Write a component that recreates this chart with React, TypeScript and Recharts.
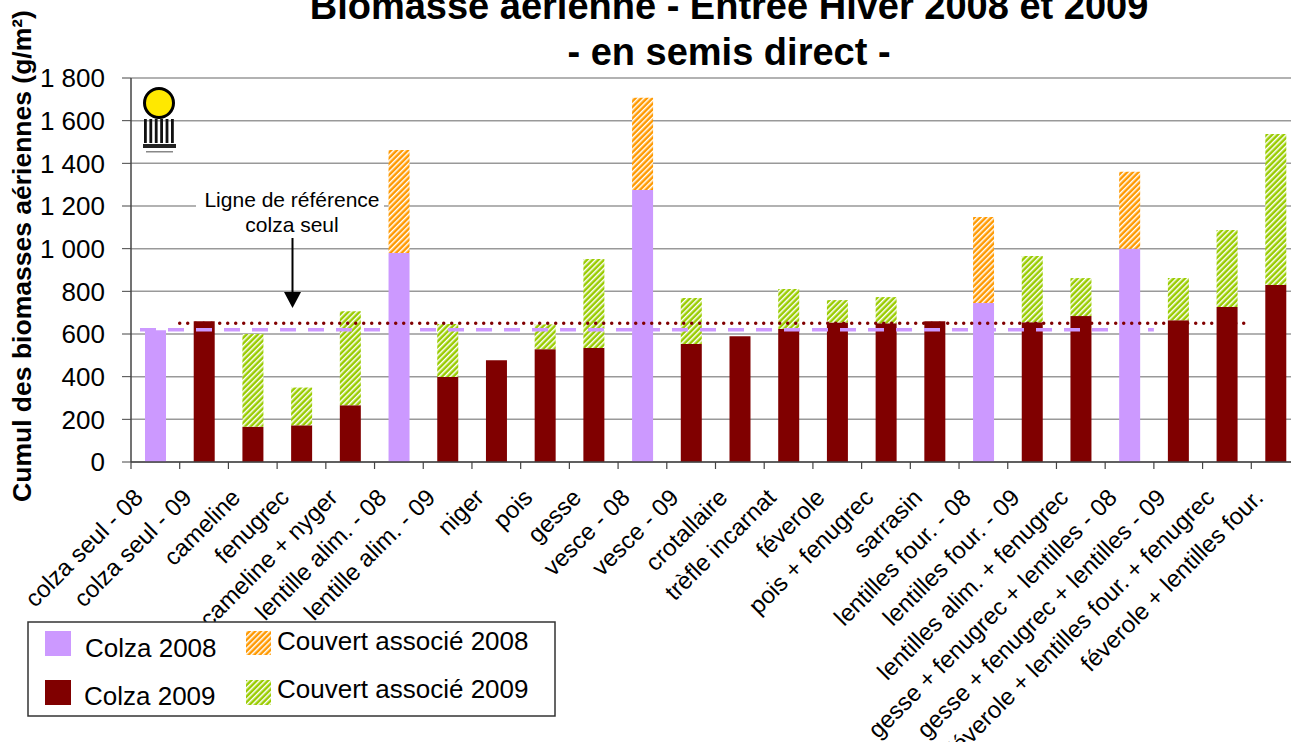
import React from 'react';
import {
  BarChart,
  Bar,
  XAxis,
  YAxis,
  CartesianGrid,
  ReferenceLine,
} from 'recharts';

// categories, left to right
const CATEGORIES = [
  'colza seul - 08',
  'colza seul - 09',
  'cameline',
  'fenugrec',
  'cameline + nyger',
  'lentille alim. - 08',
  'lentille alim. - 09',
  'niger',
  'pois',
  'gesse',
  'vesce - 08',
  'vesce - 09',
  'crotallaire',
  'trèfle incarnat',
  'féverole',
  'pois + fenugrec',
  'sarrasin',
  'lentilles four. - 08',
  'lentilles four. - 09',
  'lentilles alim. + fenugrec',
  'gesse + fenugrec + lentilles - 08',
  'gesse + fenugrec + lentilles - 09',
  'féverole + lentilles four. + fenugrec',
  'féverole + lentilles four.',
];

// g/m²
const COLZA_2008 = [617, null, null, null, null, 980, null, null, null, null, 1275, null, null, null, null, null, null, 745, null, null, 1000, null, null, null];
const COLZA_2009 = [null, 660, 165, 172, 266, null, 399, 477, 529, 534, null, 553, 590, 624, 654, 650, 660, null, 655, 684, null, 665, 726, 830];
const COUVERT_2008 = [null, null, null, null, null, 483, null, null, null, null, 432, null, null, null, null, null, null, 404, null, null, 360, null, null, null];
const COUVERT_2009 = [null, null, 435, 177, 441, null, 248, null, 116, 417, null, 216, null, 187, 105, 123, null, null, 311, 178, null, 197, 362, 708];

const Y_TICKS = [0, 200, 400, 600, 800, 1000, 1200, 1400, 1600, 1800];

// reference lines "colza seul"
const REF_2008 = 620;
const REF_2009 = 650;

const data = CATEGORIES.map((name, i) => ({
  name,
  c08: COLZA_2008[i],
  c09: COLZA_2009[i],
  v08: COUVERT_2008[i],
  v09: COUVERT_2009[i],
}));

const CHART_W = 1310;
const CHART_H = 742;
const MARGIN = { top: 78, right: 10, bottom: 0, left: 0 };
const Y_AXIS_W = 131;
const BAND = (CHART_W - MARGIN.right - Y_AXIS_W) / CATEGORIES.length;

const PURPLE = '#CC99FF';
const DARK_RED = '#800000';
const ORANGE = '#FF9900';
const GREEN = '#99CC00';
const FONT = '"Liberation Sans", Arial, sans-serif';

const fmtThousands = (v: number) =>
  v >= 1000 ? `${Math.floor(v / 1000)} ${String(v % 1000).padStart(3, '0')}` : String(v);

const XTick = (props: any) => {
  const { x, y, payload, index } = props;
  const half = BAND / 2;
  const tx = x - 17;
  const ty = y + 31;
  return (
    <g>
      <line x1={x - half} y1={y} x2={x - half} y2={y + 7} stroke="#444" strokeWidth={1.2} />
      {index === CATEGORIES.length - 1 && (
        <line x1={x + half} y1={y} x2={x + half} y2={y + 7} stroke="#444" strokeWidth={1.2} />
      )}
      <text
        x={tx}
        y={ty}
        transform={`rotate(-45, ${tx}, ${ty})`}
        textAnchor="end"
        dominantBaseline="central"
        fontSize={24}
        fill="#000"
      >
        {payload.value}
      </text>
    </g>
  );
};

const Hatch = ({ id, color }: { id: string; color: string }) => (
  <pattern id={id} patternUnits="userSpaceOnUse" width={4} height={4} patternTransform="rotate(45)">
    <rect width={4} height={4} fill={color} />
    <rect width={1.5} height={4} fill="#fff" />
  </pattern>
);

const Overlay = () => (
  <svg
    width={1291}
    height={742}
    style={{ position: 'absolute', left: 0, top: 0, pointerEvents: 'none' }}
    fontFamily={FONT}
  >
    <defs>
      <Hatch id="lgOrange" color={ORANGE} />
      <Hatch id="lgGreen" color={GREEN} />
    </defs>

    {/* title */}
    <text x={729} y={19} textAnchor="middle" fontSize={38} fontWeight="bold">
      Biomasse aérienne - Entrée Hiver 2008 et 2009
    </text>
    <text x={729} y={65} textAnchor="middle" fontSize={38} fontWeight="bold">
      - en semis direct -
    </text>

    {/* y axis title */}
    <text
      x={22}
      y={256}
      transform="rotate(-90, 22, 256)"
      textAnchor="middle"
      dominantBaseline="central"
      fontSize={26.5}
      fontWeight="bold"
    >
      Cumul des biomasses aériennes (g/m²)
    </text>

    {/* logo */}
    <g>
      <circle cx={159} cy={103} r={14.5} fill="#FFE800" stroke="#000" strokeWidth={3} />
      {[0, 1, 2, 3, 4, 5].map((k) => (
        <rect key={k} x={144 + k * 5.4} y={119} width={2.8} height={24} fill="#111" />
      ))}
      <rect x={143} y={144} width={33} height={4} fill="#222" />
      <rect x={146} y={151} width={27} height={1.5} fill="#888" />
    </g>

    {/* annotation */}
    <rect x={196} y={188} width={188} height={48} fill="#fff" />
    <text x={292} y={207} textAnchor="middle" fontSize={21}>Ligne de référence</text>
    <text x={292} y={232} textAnchor="middle" fontSize={21}>colza seul</text>
    <line x1={292.5} y1={238} x2={292.5} y2={293} stroke="#000" strokeWidth={2} />
    <polygon points="284,292 301,292 292.5,308" fill="#000" />

    {/* legend */}
    <rect x={28} y={622} width={527} height={94} fill="#fff" stroke="#333" strokeWidth={1.5} />
    <rect x={45} y={631} width={26} height={25} fill={PURPLE} />
    <text x={85} y={657} fontSize={26}>Colza 2008</text>
    <rect x={45} y={680} width={26} height={25} fill={DARK_RED} />
    <text x={84} y={705} fontSize={26}>Colza 2009</text>
    <rect x={246} y={631} width={25} height={24} fill="url(#lgOrange)" />
    <text x={277} y={650} fontSize={26}>Couvert associé 2008</text>
    <rect x={246} y={680} width={25} height={25} fill="url(#lgGreen)" />
    <text x={277} y={698} fontSize={26}>Couvert associé 2009</text>
  </svg>
);

export default function App() {
  return (
    <div
      style={{
        position: 'fixed',
        left: 0,
        top: 0,
        width: 1291,
        height: 742,
        overflow: 'hidden',
        background: '#fff',
        fontFamily: FONT,
      }}
    >
      <BarChart width={CHART_W} height={CHART_H} data={data} margin={MARGIN}>
        <defs>
          <Hatch id="hatchOrange" color={ORANGE} />
          <Hatch id="hatchGreen" color={GREEN} />
        </defs>
        <CartesianGrid vertical={false} stroke="#999" strokeWidth={1.5} />
        <XAxis
          dataKey="name"
          interval={0}
          height={280}
          tickSize={0}
          tickMargin={0}
          tickLine={false}
          tick={<XTick />}
          axisLine={{ stroke: '#444', strokeWidth: 1.5 }}
        />
        <YAxis
          width={Y_AXIS_W}
          domain={[0, 1800]}
          ticks={Y_TICKS}
          tickFormatter={fmtThousands}
          tickSize={9}
          tickMargin={17}
          tick={{ fontSize: 26, fill: '#000' }}
          tickLine={{ stroke: '#444' }}
          axisLine={{ stroke: '#444', strokeWidth: 1.5 }}
        />
        <Bar dataKey="c08" stackId="a" fill={PURPLE} barSize={21} isAnimationActive={false} />
        <Bar dataKey="c09" stackId="a" fill={DARK_RED} barSize={21} isAnimationActive={false} />
        <Bar dataKey="v08" stackId="a" fill="url(#hatchOrange)" barSize={21} isAnimationActive={false} />
        <Bar dataKey="v09" stackId="a" fill="url(#hatchGreen)" barSize={21} isAnimationActive={false} />
        <ReferenceLine
          segment={[
            { x: CATEGORIES[0], y: REF_2008 },
            { x: CATEGORIES[21], y: REF_2008 },
          ]}
          position="start"
          stroke={PURPLE}
          strokeWidth={3.5}
          strokeDasharray="16 12"
          strokeDashoffset={19}
        />
        <ReferenceLine
          segment={[
            { x: CATEGORIES[1], y: REF_2009 },
            { x: CATEGORIES[23], y: REF_2009 },
          ]}
          position="start"
          stroke={DARK_RED}
          strokeWidth={3.5}
          strokeDasharray="0 8"
          strokeLinecap="round"
        />
      </BarChart>
      <Overlay />
    </div>
  );
}
